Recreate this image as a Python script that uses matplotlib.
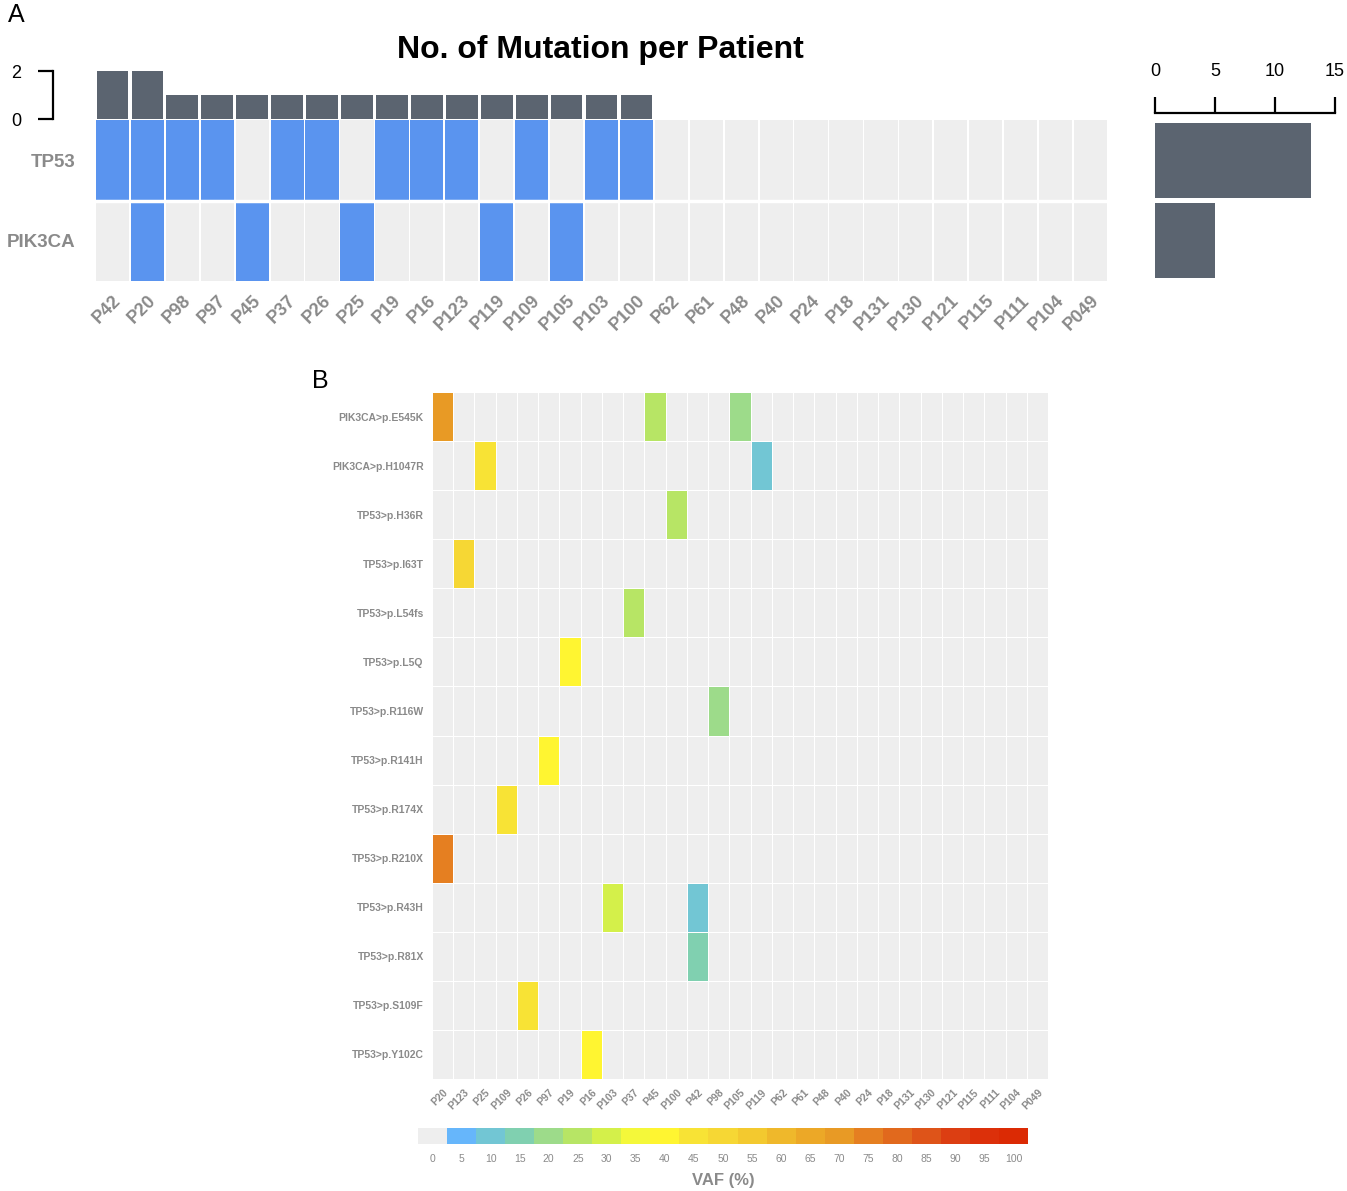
import numpy as np
import matplotlib
matplotlib.use('Agg')
import matplotlib.pyplot as plt
from matplotlib.colors import ListedColormap, BoundaryNorm

plt.rcParams['font.family'] = ['Liberation Sans', 'DejaVu Sans']

# ---------------- panel A data ----------------
patients_a = ['P42', 'P20', 'P98', 'P97', 'P45', 'P37', 'P26', 'P25', 'P19', 'P16',
              'P123', 'P119', 'P109', 'P105', 'P103', 'P100', 'P62', 'P61', 'P48',
              'P40', 'P24', 'P18', 'P131', 'P130', 'P121', 'P115', 'P111', 'P104', 'P049']
genes_a = ['TP53', 'PIK3CA']
tp53_patients = ['P42', 'P20', 'P98', 'P97', 'P37', 'P26', 'P19', 'P16', 'P123',
                 'P109', 'P103', 'P100']
pik3ca_patients = ['P20', 'P45', 'P25', 'P119', 'P105']
muts_per_patient = [2, 2, 1, 1, 1, 1, 1, 1, 1, 1, 1, 1, 1, 1, 1, 1,
                    0, 0, 0, 0, 0, 0, 0, 0, 0, 0, 0, 0, 0]
muts_per_gene = [13, 5]

# ---------------- panel B data ----------------
patients_b = ['P20', 'P123', 'P25', 'P109', 'P26', 'P97', 'P19', 'P16', 'P103', 'P37',
              'P45', 'P100', 'P42', 'P98', 'P105', 'P119', 'P62', 'P61', 'P48', 'P40',
              'P24', 'P18', 'P131', 'P130', 'P121', 'P115', 'P111', 'P104', 'P049']
variants = ['PIK3CA>p.E545K', 'PIK3CA>p.H1047R', 'TP53>p.H36R', 'TP53>p.I63T',
            'TP53>p.L54fs', 'TP53>p.L5Q', 'TP53>p.R116W', 'TP53>p.R141H',
            'TP53>p.R174X', 'TP53>p.R210X', 'TP53>p.R43H', 'TP53>p.R81X',
            'TP53>p.S109F', 'TP53>p.Y102C']
# (variant, patient, VAF %)
vaf_calls = [
    ('PIK3CA>p.E545K', 'P20', 70), ('PIK3CA>p.E545K', 'P45', 25), ('PIK3CA>p.E545K', 'P105', 20),
    ('PIK3CA>p.H1047R', 'P25', 45), ('PIK3CA>p.H1047R', 'P119', 10),
    ('TP53>p.H36R', 'P100', 25),
    ('TP53>p.I63T', 'P123', 50),
    ('TP53>p.L54fs', 'P37', 25),
    ('TP53>p.L5Q', 'P19', 40),
    ('TP53>p.R116W', 'P98', 20),
    ('TP53>p.R141H', 'P97', 40),
    ('TP53>p.R174X', 'P109', 45),
    ('TP53>p.R210X', 'P20', 75),
    ('TP53>p.R43H', 'P103', 30), ('TP53>p.R43H', 'P42', 10),
    ('TP53>p.R81X', 'P42', 15),
    ('TP53>p.S109F', 'P26', 45),
    ('TP53>p.Y102C', 'P16', 40),
]
vaf_ticks = list(range(0, 101, 5))
vaf_colors = ['#eeeeee', '#66b6fb', '#72c6d4', '#80d0b0', '#9ddb8a', '#b7e565',
              '#d4f04a', '#f4f83a', '#fff531', '#f8e335', '#f6d734', '#f3c92f',
              '#efb82b', '#eca827', '#e89a25', '#e57f21', '#e1691d', '#de5419',
              '#dc3e12', '#dc300a', '#db2a04']

grey_txt = '#8a8a8a'
blue = '#5a94ef'
dark = '#5b6470'
bg = '#eeeeee'

fig = plt.figure(figsize=(13.47, 11.91), dpi=100)
W, H = 1347., 1191.
PT = 72. / 100  # points per pixel

def ax_px(x0, y0, x1, y1):
    return fig.add_axes([x0 / W, 1 - y1 / H, (x1 - x0) / W, (y1 - y0) / H])

n_a = len(patients_a)
xa = np.arange(n_a)

# top bars: mutations per patient
ax_top = ax_px(95, 71, 1108, 119)
ax_top.bar(xa, muts_per_patient, width=0.91, color=dark)
ax_top.set_xlim(-0.5, n_a - 0.5)
ax_top.set_ylim(0, 2)
ax_top.set_yticks([0, 2])
ax_top.tick_params(axis='y', length=15 * PT, width=1.6, labelsize=13, pad=17 * PT)
ax_top.tick_params(axis='x', bottom=False, labelbottom=False)
for s in ['top', 'right', 'bottom']:
    ax_top.spines[s].set_visible(False)
ax_top.spines['left'].set_position(('outward', 42 * PT))
ax_top.spines['left'].set_linewidth(1.6)
ax_top.patch.set_alpha(0)

# oncoprint heatmap
ax_hm = ax_px(95, 120, 1108, 281)
ax_hm.set_facecolor('white')
gene_sets = [tp53_patients, pik3ca_patients]
for gi, gset in enumerate(gene_sets):
    for pi, p in enumerate(patients_a):
        c = blue if p in gset else bg
        ax_hm.bar(pi, 1, bottom=gi - 0.5, width=0.95, color=c, edgecolor='none')
ax_hm.set_xlim(-0.5, n_a - 0.5)
ax_hm.set_ylim(len(genes_a) - 0.5, -0.5)
ax_hm.axhline(0.5, color='white', lw=2.5)
ax_hm.set_yticks(range(len(genes_a)))
ax_hm.set_yticklabels(genes_a, fontsize=13.5, fontweight='bold', color=grey_txt)
ax_hm.set_xticks(xa)
ax_hm.set_xticklabels(patients_a, rotation=45, ha='right', rotation_mode='anchor',
                      fontsize=13, fontweight='bold', color=grey_txt)
ax_hm.tick_params(axis='y', length=0, pad=14)
ax_hm.tick_params(axis='x', length=0, pad=8)
for s in ax_hm.spines.values():
    s.set_visible(False)

# right bars: mutations per gene
ax_rb = ax_px(1155, 120, 1335, 281)
ax_rb.barh(range(len(genes_a)), muts_per_gene, height=0.93, color=dark)
ax_rb.set_xlim(0, 15)
ax_rb.set_ylim(len(genes_a) - 0.5, -0.5)
ax_rb.set_xticks([0, 5, 10, 15])
ax_rb.xaxis.tick_top()
ax_rb.tick_params(axis='x', length=16 * PT, width=1.6, labelsize=13, pad=17 * PT)
ax_rb.tick_params(axis='y', left=False, labelleft=False)
for s in ['bottom', 'left', 'right']:
    ax_rb.spines[s].set_visible(False)
ax_rb.spines['top'].set_position(('outward', 7 * PT))
ax_rb.spines['top'].set_linewidth(1.6)

fig.text(600 / W, 1 - 50 / H, 'No. of Mutation per Patient', ha='center', va='center',
         fontsize=23, fontweight='bold')
fig.text(8 / W, 1 - 15 / H, 'A', ha='left', va='center', fontsize=18)
fig.text(312 / W, 1 - 381 / H, 'B', ha='left', va='center', fontsize=18)

# ---------------- panel B heatmap ----------------
cmap = ListedColormap(vaf_colors)
bounds = np.arange(-2.5, 103, 5)
norm = BoundaryNorm(bounds, cmap.N)

grid = np.zeros((len(variants), len(patients_b)))
for v, p, val in vaf_calls:
    grid[variants.index(v), patients_b.index(p)] = val

ax_b = ax_px(432, 392, 1048, 1079)
ax_b.pcolormesh(grid, cmap=cmap, norm=norm, edgecolors='white', linewidth=0.6)
ax_b.set_xlim(0, len(patients_b))
ax_b.set_ylim(len(variants), 0)
ax_b.set_yticks(np.arange(len(variants)) + 0.5)
ax_b.set_yticklabels(variants, fontsize=7.5, fontweight='bold', color=grey_txt)
ax_b.set_xticks(np.arange(len(patients_b)) + 0.5)
ax_b.set_xticklabels(patients_b, rotation=45, ha='right', rotation_mode='anchor',
                     fontsize=7.5, fontweight='bold', color=grey_txt)
ax_b.tick_params(length=0, pad=6)
for s in ax_b.spines.values():
    s.set_visible(False)

# colour legend
ax_cb = ax_px(418, 1128, 1028, 1144)
sm = plt.cm.ScalarMappable(cmap=cmap, norm=norm)
cb = fig.colorbar(sm, cax=ax_cb, orientation='horizontal', ticks=vaf_ticks)
cb.outline.set_visible(False)
cb.ax.minorticks_off()
cb.ax.tick_params(which='both', length=0, labelsize=7.5, labelcolor=grey_txt, pad=7)
cb.set_label('VAF (%)', fontsize=12, fontweight='bold', color=grey_txt, labelpad=7)

plt.savefig('out.png', dpi=100)
